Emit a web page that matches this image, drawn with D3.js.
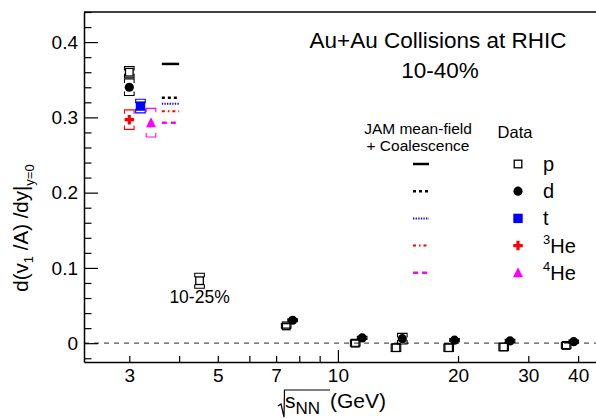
<!DOCTYPE html>
<html>
<head>
<meta charset="utf-8">
<script src="https://cdn.jsdelivr.net/npm/d3@7"></script>
<style>
  body { margin: 0; background: #fff; }
  svg text { font-family: "Liberation Sans", Arial, Helvetica, sans-serif; fill: #000; }
</style>
</head>
<body>
<svg id="chart" width="596" height="418"></svg>
<script>
// ---- data ----
var pEnergy = [3.0, 4.5, 7.42, 11.05, 13.98, 18.95, 26.03, 37.33];
var pValue  = [0.360, 0.083, 0.023, 0.000, -0.006, -0.006, -0.005, -0.003];
var pSys    = [0.0075, 0.010, 0.003, 0.004, 0.005, 0.005, 0.005, 0.004];

var dEnergy = [3.0, 7.7, 11.5, 14.5, 19.6, 27.0, 39.0];
var dValue  = [0.340, 0.0305, 0.007, 0.006, 0.004, 0.003, 0.002];
var dSys    = [0.011, 0.002, 0.002, 0.007, 0.002, 0.002, 0.002];

var tEnergy = [3.2];
var tValue  = [0.315];
var tSys    = [0.009];

var he3Energy = [3.0];
var he3Value  = [0.297];
var he3Sys    = [0.013];

var he4Energy = [3.4];
var he4Value  = [0.293];
var he4Sys    = [0.019];

// JAM mean-field + coalescence at 3 GeV (drawn as short segments)
var jamSpecies = ["p", "d", "t", "3He", "4He"];
var jamValue   = [0.371, 0.326, 0.318, 0.308, 0.293];
var jamRange   = [3.62, 4.0];

var xTicks      = [3, 4, 5, 6, 7, 8, 9, 10, 20, 30, 40];
var xTickLabels = [3, 5, 7, 10, 20, 30, 40];
var yTicks      = [0, 0.1, 0.2, 0.3, 0.4];

var legendLabels = ["p", "d", "t", "3He", "4He"];

// ---- setup ----
var svg = d3.select("#chart");
var font = "Liberation Sans, Arial, Helvetica, sans-serif";

var x = d3.scaleLog().domain([2.31, 44.6]).range([84, 597]);
var y = d3.scaleLinear().domain([-0.025, 0.44]).range([362, 12]);

var styles = {
    "p":   { color: "#000", dash: null,            width: 2.5 },
    "d":   { color: "#000", dash: "3,3",           width: 2.5 },
    "t":   { color: "#0000ff", dash: "1.3,1.3",    width: 2 },
    "3He": { color: "#ff0000", dash: "3,3,1.5,3",  width: 2 },
    "4He": { color: "#ff00ff", dash: "5,4",        width: 2.5 }
};

// zero line
svg.append("line")
    .attr("x1", x.range()[0]).attr("x2", x.range()[1])
    .attr("y1", y(0)).attr("y2", y(0))
    .attr("stroke", "#555").attr("stroke-width", 1.2)
    .attr("stroke-dasharray", "5,5");

// ---- axes ----
var yMinor = d3.range(-0.02, 0.441, 0.02).filter(function(v) {
    return Math.abs(Math.round(v * 10) - v * 10) > 1e-6;
});

var yAxis = d3.axisLeft(y).tickValues(yTicks).tickSizeInner(-14).tickSizeOuter(0)
    .tickPadding(6).tickFormat(function(d) { return d === 0 ? "0" : d3.format(".1f")(d); });
var gy = svg.append("g").attr("transform", "translate(" + x.range()[0] + ",0)").call(yAxis);
var gyMinor = svg.append("g").attr("transform", "translate(" + x.range()[0] + ",0)")
    .call(d3.axisLeft(y).tickValues(yMinor).tickSizeInner(-7.5).tickSizeOuter(0).tickFormat(""));
gyMinor.select(".domain").remove();

var xAxis = d3.axisBottom(x).tickValues(xTicks).tickSizeInner(-6).tickSizeOuter(0)
    .tickPadding(6.5).tickFormat(function(d) { return xTickLabels.indexOf(d) >= 0 ? d : ""; });
var gx = svg.append("g").attr("transform", "translate(0," + y.range()[0] + ")").call(xAxis);
gx.selectAll(".tick line").filter(function(d) { return d === 10; }).attr("y2", -12);

[gx, gy, gyMinor].forEach(function(g) {
    g.selectAll("path.domain").attr("stroke", "#000").attr("stroke-width", 1.5);
    g.selectAll(".tick line").attr("stroke", "#000").attr("stroke-width", 1.2);
    g.selectAll(".tick text").attr("font-family", font).attr("font-size", 19).attr("fill", "#000");
});

// top frame
svg.append("line")
    .attr("x1", x.range()[0]).attr("x2", x.range()[1])
    .attr("y1", y.range()[1]).attr("y2", y.range()[1])
    .attr("stroke", "#000").attr("stroke-width", 1.5);

// ---- JAM segments ----
jamSpecies.forEach(function(s, i) {
    var st = styles[s];
    svg.append("line")
        .attr("x1", x(jamRange[0])).attr("x2", x(jamRange[1]))
        .attr("y1", y(jamValue[i])).attr("y2", y(jamValue[i]))
        .attr("stroke", st.color).attr("stroke-width", st.width)
        .attr("stroke-dasharray", st.dash);
});

// ---- systematic boxes (bracket style) ----
function sysBoxes(energy, value, sys, color) {
    var hw = 4.8, leg = 4;
    energy.forEach(function(e, i) {
        var cx = x(e), top = y(value[i] + sys[i]), bot = y(value[i] - sys[i]);
        var l = Math.min(leg, (bot - top) / 2);
        var p = d3.path();
        p.moveTo(cx - hw, top + l); p.lineTo(cx - hw, top); p.lineTo(cx + hw, top); p.lineTo(cx + hw, top + l);
        p.moveTo(cx - hw, bot - l); p.lineTo(cx - hw, bot); p.lineTo(cx + hw, bot); p.lineTo(cx + hw, bot - l);
        svg.append("path").attr("d", p.toString())
            .attr("fill", "none").attr("stroke", color).attr("stroke-width", 1.1);
    });
}
sysBoxes(pEnergy, pValue, pSys, "#000");
sysBoxes(dEnergy, dValue, dSys, "#000");
sysBoxes(tEnergy, tValue, tSys, "#0000ff");
sysBoxes(he3Energy, he3Value, he3Sys, "#ff0000");
sysBoxes(he4Energy, he4Value, he4Sys, "#ff00ff");

// ---- markers ----
function drawMarker(g, kind, cx, cy) {
    if (kind === "p") {
        g.append("rect").attr("x", cx - 3.8).attr("y", cy - 3.8).attr("width", 7.6).attr("height", 7.6)
            .attr("fill", "none").attr("stroke", "#000").attr("stroke-width", 1.3);
    } else if (kind === "d") {
        g.append("circle").attr("cx", cx).attr("cy", cy).attr("r", 4.6).attr("fill", "#000");
    } else if (kind === "t") {
        g.append("rect").attr("x", cx - 4.7).attr("y", cy - 4.7).attr("width", 9.4).attr("height", 9.4)
            .attr("fill", "#0000ff");
    } else if (kind === "3He") {
        g.append("path").attr("d", d3.symbol(d3.symbolCross, 50)())
            .attr("transform", "translate(" + cx + "," + cy + ")").attr("fill", "#ff0000");
    } else if (kind === "4He") {
        g.append("polygon")
            .attr("points", [[cx, cy - 5.5], [cx + 5, cy + 4.5], [cx - 5, cy + 4.5]].join(" "))
            .attr("fill", "#ff00ff");
    }
}
var series = [
    ["p", pEnergy, pValue], ["d", dEnergy, dValue], ["t", tEnergy, tValue],
    ["3He", he3Energy, he3Value], ["4He", he4Energy, he4Value]
];
series.forEach(function(s) {
    s[1].forEach(function(e, i) { drawMarker(svg, s[0], x(e), y(s[2][i])); });
});

// ---- texts ----
svg.append("text").attr("x", 438).attr("y", 48).attr("text-anchor", "middle")
    .attr("font-size", 22.5).text("Au+Au Collisions at RHIC");
svg.append("text").attr("x", 440).attr("y", 78).attr("text-anchor", "middle")
    .attr("font-size", 22.5).text("10-40%");
svg.append("text").attr("x", x(4.5)).attr("y", 303).attr("text-anchor", "middle")
    .attr("font-size", 17.5).text("10-25%");

// legend
svg.append("text").attr("x", 418).attr("y", 134).attr("text-anchor", "middle")
    .attr("font-size", 15.5).text("JAM mean-field");
svg.append("text").attr("x", 418).attr("y", 150.5).attr("text-anchor", "middle")
    .attr("font-size", 15.5).text("+ Coalescence");
svg.append("text").attr("x", 515).attr("y", 138).attr("text-anchor", "middle")
    .attr("font-size", 16.5).text("Data");

legendLabels.forEach(function(lab, i) {
    var ly = 164 + i * 27.2, st = styles[jamSpecies[i]];
    svg.append("line").attr("x1", 413).attr("x2", 429).attr("y1", ly).attr("y2", ly)
        .attr("stroke", st.color).attr("stroke-width", st.width).attr("stroke-dasharray", st.dash);
    drawMarker(svg, jamSpecies[i], 518, ly);
    var t = svg.append("text").attr("x", 543).attr("y", ly + 7).attr("font-size", 20);
    if (lab.length > 1) {
        t.append("tspan").attr("font-size", 13).attr("dy", -9).text(lab[0]);
        t.append("tspan").attr("dy", 9).text(lab.slice(1));
    } else {
        t.text(lab);
    }
});

// y axis title
var yt = svg.append("text").attr("transform", "translate(28,228) rotate(-90)")
    .attr("text-anchor", "middle").attr("font-size", 20.5);
yt.append("tspan").text("d(v");
yt.append("tspan").attr("font-size", 13).attr("dy", 5).text("1");
yt.append("tspan").attr("dy", -5).text(" /A) /dy|");
yt.append("tspan").attr("font-size", 13).attr("dy", 6).text("y=0");

// x axis title with radical sign
var xt = svg.append("text").attr("x", 285).attr("y", 408).attr("font-size", 21);
xt.append("tspan").text("s");
xt.append("tspan").attr("font-size", 17).attr("dy", 6).text("NN");
xt.append("tspan").attr("dy", -6).attr("dx", 4).text(" (GeV)");
svg.append("path")
    .attr("d", "M278,406 L281,404 L284,417 L284.5,390 L330,390")
    .attr("fill", "none").attr("stroke", "#000").attr("stroke-width", 1.2);
</script>
</body>
</html>
